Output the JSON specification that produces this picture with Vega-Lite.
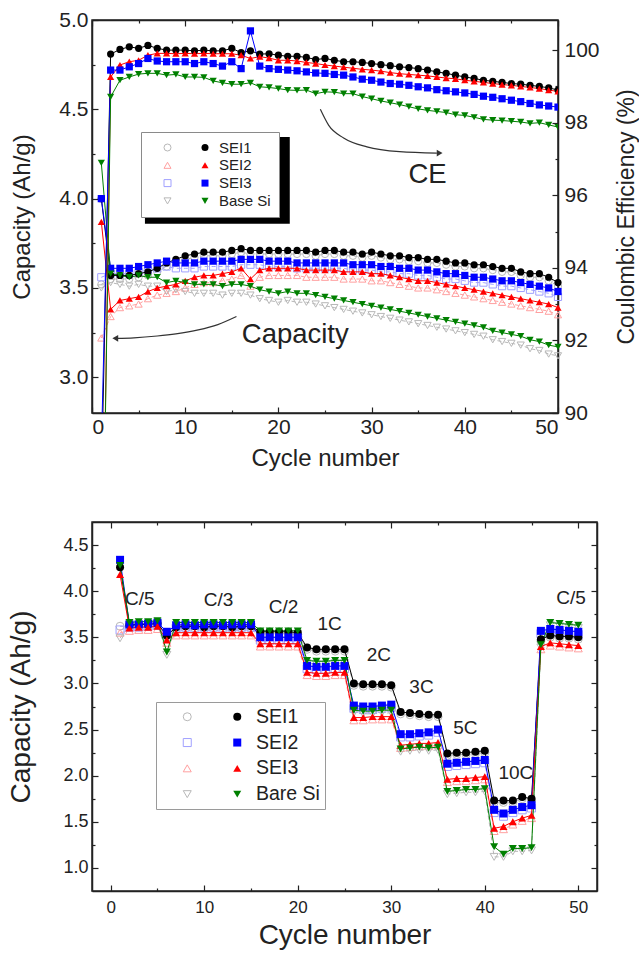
{
  "$schema": "https://vega.github.io/schema/vega-lite/v6.json",
  "background": "white",
  "padding": {"left": 6, "top": 8, "right": 0, "bottom": 0},
  "bounds": "flush",
  "spacing": 109,
  "config": {
    "font": "Liberation Sans",
    "view": {"stroke": "#222", "strokeWidth": 1.5},
    "axis": {"domainColor": "#222", "domainWidth": 1.5, "tickColor": "#222", "tickWidth": 1.2, "labelColor": "#222", "titleColor": "#222", "grid": false, "labelFont": "Liberation Sans", "titleFont": "Liberation Sans", "titleFontWeight": "normal"},
    "legend": {"labelFont": "Liberation Sans", "labelColor": "#222", "symbolStrokeWidth": 1}
  },
  "datasets": {
    "cycling": [
      {"c":1,"s":"SEI1","cap":4.00,"capo":3.52,"ce":88.0},{"c":2,"s":"SEI1","cap":3.57,"capo":3.55,"ce":99.89},{"c":3,"s":"SEI1","cap":3.57,"capo":3.55,"ce":100.02},{"c":4,"s":"SEI1","cap":3.57,"capo":3.55,"ce":100.09},{"c":5,"s":"SEI1","cap":3.58,"capo":3.56,"ce":100.05},
      {"c":6,"s":"SEI1","cap":3.59,"capo":3.57,"ce":100.13},{"c":7,"s":"SEI1","cap":3.61,"capo":3.59,"ce":100.05},{"c":8,"s":"SEI1","cap":3.64,"capo":3.62,"ce":100.0},{"c":9,"s":"SEI1","cap":3.66,"capo":3.64,"ce":100.0},{"c":10,"s":"SEI1","cap":3.68,"capo":3.66,"ce":100.0},
      {"c":11,"s":"SEI1","cap":3.69,"capo":3.67,"ce":99.98},{"c":12,"s":"SEI1","cap":3.70,"capo":3.68,"ce":100.0},{"c":13,"s":"SEI1","cap":3.70,"capo":3.68,"ce":99.98},{"c":14,"s":"SEI1","cap":3.70,"capo":3.68,"ce":99.98},{"c":15,"s":"SEI1","cap":3.71,"capo":3.69,"ce":100.05},
      {"c":16,"s":"SEI1","cap":3.72,"capo":3.70,"ce":99.93},{"c":17,"s":"SEI1","cap":3.71,"capo":3.69,"ce":99.98},{"c":18,"s":"SEI1","cap":3.71,"capo":3.69,"ce":99.89},{"c":19,"s":"SEI1","cap":3.71,"capo":3.69,"ce":99.9},{"c":20,"s":"SEI1","cap":3.71,"capo":3.69,"ce":99.86},
      {"c":21,"s":"SEI1","cap":3.71,"capo":3.69,"ce":99.83},{"c":22,"s":"SEI1","cap":3.71,"capo":3.69,"ce":99.83},{"c":23,"s":"SEI1","cap":3.71,"capo":3.69,"ce":99.8},{"c":24,"s":"SEI1","cap":3.70,"capo":3.68,"ce":99.74},{"c":25,"s":"SEI1","cap":3.71,"capo":3.69,"ce":99.77},
      {"c":26,"s":"SEI1","cap":3.71,"capo":3.69,"ce":99.72},{"c":27,"s":"SEI1","cap":3.70,"capo":3.68,"ce":99.68},{"c":28,"s":"SEI1","cap":3.70,"capo":3.68,"ce":99.68},{"c":29,"s":"SEI1","cap":3.69,"capo":3.67,"ce":99.66},{"c":30,"s":"SEI1","cap":3.70,"capo":3.68,"ce":99.63},
      {"c":31,"s":"SEI1","cap":3.69,"capo":3.67,"ce":99.6},{"c":32,"s":"SEI1","cap":3.68,"capo":3.66,"ce":99.57},{"c":33,"s":"SEI1","cap":3.68,"capo":3.66,"ce":99.54},{"c":34,"s":"SEI1","cap":3.67,"capo":3.65,"ce":99.52},{"c":35,"s":"SEI1","cap":3.67,"capo":3.65,"ce":99.49},
      {"c":36,"s":"SEI1","cap":3.66,"capo":3.64,"ce":99.45},{"c":37,"s":"SEI1","cap":3.66,"capo":3.64,"ce":99.4},{"c":38,"s":"SEI1","cap":3.65,"capo":3.63,"ce":99.36},{"c":39,"s":"SEI1","cap":3.64,"capo":3.62,"ce":99.31},{"c":40,"s":"SEI1","cap":3.64,"capo":3.62,"ce":99.26},
      {"c":41,"s":"SEI1","cap":3.63,"capo":3.61,"ce":99.22},{"c":42,"s":"SEI1","cap":3.63,"capo":3.61,"ce":99.17},{"c":43,"s":"SEI1","cap":3.62,"capo":3.60,"ce":99.14},{"c":44,"s":"SEI1","cap":3.61,"capo":3.59,"ce":99.11},{"c":45,"s":"SEI1","cap":3.61,"capo":3.59,"ce":99.08},
      {"c":46,"s":"SEI1","cap":3.59,"capo":3.57,"ce":99.06},{"c":47,"s":"SEI1","cap":3.58,"capo":3.56,"ce":99.03},{"c":48,"s":"SEI1","cap":3.58,"capo":3.56,"ce":99.0},{"c":49,"s":"SEI1","cap":3.56,"capo":3.54,"ce":98.96},{"c":50,"s":"SEI1","cap":3.53,"capo":3.51,"ce":98.9},

      {"c":1,"s":"SEI2","cap":3.87,"capo":3.22,"ce":83.0},{"c":2,"s":"SEI2","cap":3.38,"capo":3.34,"ce":99.26},{"c":3,"s":"SEI2","cap":3.43,"capo":3.39,"ce":99.59},{"c":4,"s":"SEI2","cap":3.44,"capo":3.40,"ce":99.68},{"c":5,"s":"SEI2","cap":3.45,"capo":3.41,"ce":99.72},
      {"c":6,"s":"SEI2","cap":3.48,"capo":3.44,"ce":99.86},{"c":7,"s":"SEI2","cap":3.50,"capo":3.46,"ce":99.91},{"c":8,"s":"SEI2","cap":3.51,"capo":3.47,"ce":99.91},{"c":9,"s":"SEI2","cap":3.52,"capo":3.48,"ce":99.9},{"c":10,"s":"SEI2","cap":3.54,"capo":3.50,"ce":99.91},
      {"c":11,"s":"SEI2","cap":3.56,"capo":3.52,"ce":99.9},{"c":12,"s":"SEI2","cap":3.57,"capo":3.53,"ce":99.91},{"c":13,"s":"SEI2","cap":3.57,"capo":3.53,"ce":99.9},{"c":14,"s":"SEI2","cap":3.58,"capo":3.54,"ce":99.9},{"c":15,"s":"SEI2","cap":3.59,"capo":3.55,"ce":99.9},
      {"c":16,"s":"SEI2","cap":3.61,"capo":3.57,"ce":99.86},{"c":17,"s":"SEI2","cap":3.55,"capo":3.51,"ce":99.77},{"c":18,"s":"SEI2","cap":3.60,"capo":3.56,"ce":99.82},{"c":19,"s":"SEI2","cap":3.61,"capo":3.57,"ce":99.78},{"c":20,"s":"SEI2","cap":3.61,"capo":3.57,"ce":99.72},
      {"c":21,"s":"SEI2","cap":3.61,"capo":3.57,"ce":99.72},{"c":22,"s":"SEI2","cap":3.61,"capo":3.57,"ce":99.7},{"c":23,"s":"SEI2","cap":3.60,"capo":3.56,"ce":99.66},{"c":24,"s":"SEI2","cap":3.60,"capo":3.56,"ce":99.63},{"c":25,"s":"SEI2","cap":3.60,"capo":3.56,"ce":99.59},
      {"c":26,"s":"SEI2","cap":3.60,"capo":3.56,"ce":99.56},{"c":27,"s":"SEI2","cap":3.59,"capo":3.55,"ce":99.53},{"c":28,"s":"SEI2","cap":3.59,"capo":3.55,"ce":99.5},{"c":29,"s":"SEI2","cap":3.59,"capo":3.55,"ce":99.47},{"c":30,"s":"SEI2","cap":3.58,"capo":3.54,"ce":99.45},
      {"c":31,"s":"SEI2","cap":3.58,"capo":3.54,"ce":99.42},{"c":32,"s":"SEI2","cap":3.57,"capo":3.53,"ce":99.38},{"c":33,"s":"SEI2","cap":3.56,"capo":3.52,"ce":99.35},{"c":34,"s":"SEI2","cap":3.55,"capo":3.51,"ce":99.33},{"c":35,"s":"SEI2","cap":3.54,"capo":3.50,"ce":99.31},
      {"c":36,"s":"SEI2","cap":3.54,"capo":3.50,"ce":99.29},{"c":37,"s":"SEI2","cap":3.53,"capo":3.49,"ce":99.26},{"c":38,"s":"SEI2","cap":3.52,"capo":3.48,"ce":99.23},{"c":39,"s":"SEI2","cap":3.51,"capo":3.47,"ce":99.21},{"c":40,"s":"SEI2","cap":3.50,"capo":3.46,"ce":99.17},
      {"c":41,"s":"SEI2","cap":3.49,"capo":3.45,"ce":99.14},{"c":42,"s":"SEI2","cap":3.48,"capo":3.44,"ce":99.11},{"c":43,"s":"SEI2","cap":3.47,"capo":3.43,"ce":99.08},{"c":44,"s":"SEI2","cap":3.46,"capo":3.42,"ce":99.05},{"c":45,"s":"SEI2","cap":3.45,"capo":3.41,"ce":99.03},
      {"c":46,"s":"SEI2","cap":3.44,"capo":3.40,"ce":99.0},{"c":47,"s":"SEI2","cap":3.43,"capo":3.39,"ce":98.97},{"c":48,"s":"SEI2","cap":3.42,"capo":3.38,"ce":98.94},{"c":49,"s":"SEI2","cap":3.41,"capo":3.37,"ce":98.9},{"c":50,"s":"SEI2","cap":3.39,"capo":3.35,"ce":98.86},

      {"c":1,"s":"SEI3","cap":4.00,"capo":3.56,"ce":89.0},{"c":2,"s":"SEI3","cap":3.61,"capo":3.58,"ce":99.45},{"c":3,"s":"SEI3","cap":3.61,"capo":3.58,"ce":99.45},{"c":4,"s":"SEI3","cap":3.61,"capo":3.58,"ce":99.54},{"c":5,"s":"SEI3","cap":3.62,"capo":3.59,"ce":99.63},
      {"c":6,"s":"SEI3","cap":3.63,"capo":3.60,"ce":99.77},{"c":7,"s":"SEI3","cap":3.64,"capo":3.61,"ce":99.7},{"c":8,"s":"SEI3","cap":3.65,"capo":3.62,"ce":99.68},{"c":9,"s":"SEI3","cap":3.64,"capo":3.61,"ce":99.68},{"c":10,"s":"SEI3","cap":3.64,"capo":3.61,"ce":99.68},
      {"c":11,"s":"SEI3","cap":3.64,"capo":3.61,"ce":99.63},{"c":12,"s":"SEI3","cap":3.65,"capo":3.62,"ce":99.68},{"c":13,"s":"SEI3","cap":3.65,"capo":3.62,"ce":99.63},{"c":14,"s":"SEI3","cap":3.65,"capo":3.62,"ce":99.56},{"c":15,"s":"SEI3","cap":3.65,"capo":3.62,"ce":99.68},
      {"c":16,"s":"SEI3","cap":3.66,"capo":3.63,"ce":99.49},{"c":17,"s":"SEI3","cap":3.66,"capo":3.63,"ce":100.53},{"c":18,"s":"SEI3","cap":3.66,"capo":3.63,"ce":99.56},{"c":19,"s":"SEI3","cap":3.65,"capo":3.62,"ce":99.49},{"c":20,"s":"SEI3","cap":3.65,"capo":3.62,"ce":99.47},
      {"c":21,"s":"SEI3","cap":3.65,"capo":3.62,"ce":99.45},{"c":22,"s":"SEI3","cap":3.64,"capo":3.61,"ce":99.43},{"c":23,"s":"SEI3","cap":3.64,"capo":3.61,"ce":99.4},{"c":24,"s":"SEI3","cap":3.64,"capo":3.61,"ce":99.37},{"c":25,"s":"SEI3","cap":3.64,"capo":3.61,"ce":99.36},
      {"c":26,"s":"SEI3","cap":3.64,"capo":3.61,"ce":99.33},{"c":27,"s":"SEI3","cap":3.64,"capo":3.61,"ce":99.31},{"c":28,"s":"SEI3","cap":3.63,"capo":3.60,"ce":99.26},{"c":29,"s":"SEI3","cap":3.63,"capo":3.60,"ce":99.2},{"c":30,"s":"SEI3","cap":3.63,"capo":3.60,"ce":99.17},
      {"c":31,"s":"SEI3","cap":3.62,"capo":3.59,"ce":99.12},{"c":32,"s":"SEI3","cap":3.62,"capo":3.59,"ce":99.08},{"c":33,"s":"SEI3","cap":3.61,"capo":3.58,"ce":99.06},{"c":34,"s":"SEI3","cap":3.61,"capo":3.58,"ce":99.03},{"c":35,"s":"SEI3","cap":3.60,"capo":3.57,"ce":98.99},
      {"c":36,"s":"SEI3","cap":3.60,"capo":3.57,"ce":98.96},{"c":37,"s":"SEI3","cap":3.59,"capo":3.56,"ce":98.91},{"c":38,"s":"SEI3","cap":3.58,"capo":3.55,"ce":98.88},{"c":39,"s":"SEI3","cap":3.58,"capo":3.55,"ce":98.85},{"c":40,"s":"SEI3","cap":3.57,"capo":3.54,"ce":98.82},
      {"c":41,"s":"SEI3","cap":3.56,"capo":3.53,"ce":98.78},{"c":42,"s":"SEI3","cap":3.56,"capo":3.53,"ce":98.73},{"c":43,"s":"SEI3","cap":3.55,"capo":3.52,"ce":98.7},{"c":44,"s":"SEI3","cap":3.54,"capo":3.51,"ce":98.66},{"c":45,"s":"SEI3","cap":3.54,"capo":3.51,"ce":98.62},
      {"c":46,"s":"SEI3","cap":3.53,"capo":3.50,"ce":98.58},{"c":47,"s":"SEI3","cap":3.52,"capo":3.49,"ce":98.53},{"c":48,"s":"SEI3","cap":3.51,"capo":3.48,"ce":98.49},{"c":49,"s":"SEI3","cap":3.50,"capo":3.47,"ce":98.46},{"c":50,"s":"SEI3","cap":3.48,"capo":3.45,"ce":98.43},

      {"c":1,"s":"Base Si","cap":4.20,"capo":3.50,"ce":83.0},{"c":2,"s":"Base Si","cap":3.58,"capo":3.53,"ce":98.71},{"c":3,"s":"Base Si","cap":3.57,"capo":3.52,"ce":99.17},{"c":4,"s":"Base Si","cap":3.56,"capo":3.51,"ce":99.26},{"c":5,"s":"Base Si","cap":3.57,"capo":3.52,"ce":99.34},
      {"c":6,"s":"Base Si","cap":3.56,"capo":3.51,"ce":99.36},{"c":7,"s":"Base Si","cap":3.56,"capo":3.51,"ce":99.36},{"c":8,"s":"Base Si","cap":3.53,"capo":3.48,"ce":99.31},{"c":9,"s":"Base Si","cap":3.54,"capo":3.49,"ce":99.33},{"c":10,"s":"Base Si","cap":3.53,"capo":3.48,"ce":99.26},
      {"c":11,"s":"Base Si","cap":3.52,"capo":3.47,"ce":99.26},{"c":12,"s":"Base Si","cap":3.52,"capo":3.47,"ce":99.25},{"c":13,"s":"Base Si","cap":3.52,"capo":3.47,"ce":99.15},{"c":14,"s":"Base Si","cap":3.51,"capo":3.46,"ce":99.1},{"c":15,"s":"Base Si","cap":3.52,"capo":3.47,"ce":99.06},
      {"c":16,"s":"Base Si","cap":3.52,"capo":3.47,"ce":99.06},{"c":17,"s":"Base Si","cap":3.51,"capo":3.46,"ce":99.1},{"c":18,"s":"Base Si","cap":3.49,"capo":3.44,"ce":98.99},{"c":19,"s":"Base Si","cap":3.48,"capo":3.43,"ce":98.97},{"c":20,"s":"Base Si","cap":3.47,"capo":3.42,"ce":98.94},
      {"c":21,"s":"Base Si","cap":3.48,"capo":3.43,"ce":98.9},{"c":22,"s":"Base Si","cap":3.47,"capo":3.42,"ce":98.89},{"c":23,"s":"Base Si","cap":3.47,"capo":3.42,"ce":98.9},{"c":24,"s":"Base Si","cap":3.46,"capo":3.41,"ce":98.8},{"c":25,"s":"Base Si","cap":3.45,"capo":3.40,"ce":98.85},
      {"c":26,"s":"Base Si","cap":3.44,"capo":3.39,"ce":98.84},{"c":27,"s":"Base Si","cap":3.43,"capo":3.38,"ce":98.8},{"c":28,"s":"Base Si","cap":3.42,"capo":3.37,"ce":98.8},{"c":29,"s":"Base Si","cap":3.41,"capo":3.36,"ce":98.72},{"c":30,"s":"Base Si","cap":3.40,"capo":3.35,"ce":98.66},
      {"c":31,"s":"Base Si","cap":3.39,"capo":3.34,"ce":98.6},{"c":32,"s":"Base Si","cap":3.38,"capo":3.33,"ce":98.55},{"c":33,"s":"Base Si","cap":3.37,"capo":3.32,"ce":98.5},{"c":34,"s":"Base Si","cap":3.36,"capo":3.31,"ce":98.44},{"c":35,"s":"Base Si","cap":3.35,"capo":3.30,"ce":98.38},
      {"c":36,"s":"Base Si","cap":3.34,"capo":3.29,"ce":98.34},{"c":37,"s":"Base Si","cap":3.33,"capo":3.28,"ce":98.31},{"c":38,"s":"Base Si","cap":3.32,"capo":3.27,"ce":98.28},{"c":39,"s":"Base Si","cap":3.31,"capo":3.26,"ce":98.22},{"c":40,"s":"Base Si","cap":3.30,"capo":3.25,"ce":98.2},
      {"c":41,"s":"Base Si","cap":3.29,"capo":3.24,"ce":98.15},{"c":42,"s":"Base Si","cap":3.28,"capo":3.23,"ce":98.09},{"c":43,"s":"Base Si","cap":3.26,"capo":3.21,"ce":98.07},{"c":44,"s":"Base Si","cap":3.25,"capo":3.20,"ce":98.06},{"c":45,"s":"Base Si","cap":3.24,"capo":3.19,"ce":98.04},
      {"c":46,"s":"Base Si","cap":3.23,"capo":3.18,"ce":98.02},{"c":47,"s":"Base Si","cap":3.21,"capo":3.16,"ce":97.98},{"c":48,"s":"Base Si","cap":3.20,"capo":3.15,"ce":98.0},{"c":49,"s":"Base Si","cap":3.18,"capo":3.13,"ce":97.94},{"c":50,"s":"Base Si","cap":3.17,"capo":3.12,"ce":97.88}
    ],
    "rate": [
      {"c":1,"s":"SEI1","d":4.26,"o":3.62},{"c":2,"s":"SEI1","d":3.63,"o":3.61},{"c":3,"s":"SEI1","d":3.64,"o":3.62},{"c":4,"s":"SEI1","d":3.64,"o":3.62},{"c":5,"s":"SEI1","d":3.65,"o":3.63},
      {"c":6,"s":"SEI1","d":3.52,"o":3.50},{"c":7,"s":"SEI1","d":3.61,"o":3.59},{"c":8,"s":"SEI1","d":3.62,"o":3.60},{"c":9,"s":"SEI1","d":3.62,"o":3.60},{"c":10,"s":"SEI1","d":3.61,"o":3.59},
      {"c":11,"s":"SEI1","d":3.62,"o":3.60},{"c":12,"s":"SEI1","d":3.62,"o":3.60},{"c":13,"s":"SEI1","d":3.61,"o":3.59},{"c":14,"s":"SEI1","d":3.62,"o":3.60},{"c":15,"s":"SEI1","d":3.62,"o":3.60},
      {"c":16,"s":"SEI1","d":3.56,"o":3.54},{"c":17,"s":"SEI1","d":3.56,"o":3.54},{"c":18,"s":"SEI1","d":3.56,"o":3.54},{"c":19,"s":"SEI1","d":3.56,"o":3.54},{"c":20,"s":"SEI1","d":3.55,"o":3.53},
      {"c":21,"s":"SEI1","d":3.39,"o":3.37},{"c":22,"s":"SEI1","d":3.37,"o":3.35},{"c":23,"s":"SEI1","d":3.37,"o":3.35},{"c":24,"s":"SEI1","d":3.37,"o":3.35},{"c":25,"s":"SEI1","d":3.37,"o":3.35},
      {"c":26,"s":"SEI1","d":3.00,"o":2.98},{"c":27,"s":"SEI1","d":2.99,"o":2.97},{"c":28,"s":"SEI1","d":2.99,"o":2.97},{"c":29,"s":"SEI1","d":2.99,"o":2.97},{"c":30,"s":"SEI1","d":2.98,"o":2.96},
      {"c":31,"s":"SEI1","d":2.69,"o":2.67},{"c":32,"s":"SEI1","d":2.68,"o":2.66},{"c":33,"s":"SEI1","d":2.67,"o":2.65},{"c":34,"s":"SEI1","d":2.66,"o":2.64},{"c":35,"s":"SEI1","d":2.66,"o":2.64},
      {"c":36,"s":"SEI1","d":2.24,"o":2.22},{"c":37,"s":"SEI1","d":2.25,"o":2.23},{"c":38,"s":"SEI1","d":2.25,"o":2.23},{"c":39,"s":"SEI1","d":2.26,"o":2.24},{"c":40,"s":"SEI1","d":2.27,"o":2.25},
      {"c":41,"s":"SEI1","d":1.73,"o":1.71},{"c":42,"s":"SEI1","d":1.73,"o":1.71},{"c":43,"s":"SEI1","d":1.73,"o":1.71},{"c":44,"s":"SEI1","d":1.77,"o":1.75},{"c":45,"s":"SEI1","d":1.75,"o":1.73},
      {"c":46,"s":"SEI1","d":3.48,"o":3.46},{"c":47,"s":"SEI1","d":3.52,"o":3.50},{"c":48,"s":"SEI1","d":3.51,"o":3.49},{"c":49,"s":"SEI1","d":3.51,"o":3.49},{"c":50,"s":"SEI1","d":3.50,"o":3.48},

      {"c":1,"s":"SEI2","d":4.34,"o":3.58},{"c":2,"s":"SEI2","d":3.64,"o":3.61},{"c":3,"s":"SEI2","d":3.64,"o":3.61},{"c":4,"s":"SEI2","d":3.65,"o":3.62},{"c":5,"s":"SEI2","d":3.66,"o":3.63},
      {"c":6,"s":"SEI2","d":3.56,"o":3.53},{"c":7,"s":"SEI2","d":3.63,"o":3.60},{"c":8,"s":"SEI2","d":3.64,"o":3.61},{"c":9,"s":"SEI2","d":3.63,"o":3.60},{"c":10,"s":"SEI2","d":3.64,"o":3.61},
      {"c":11,"s":"SEI2","d":3.64,"o":3.61},{"c":12,"s":"SEI2","d":3.63,"o":3.60},{"c":13,"s":"SEI2","d":3.64,"o":3.61},{"c":14,"s":"SEI2","d":3.64,"o":3.61},{"c":15,"s":"SEI2","d":3.64,"o":3.61},
      {"c":16,"s":"SEI2","d":3.50,"o":3.47},{"c":17,"s":"SEI2","d":3.50,"o":3.47},{"c":18,"s":"SEI2","d":3.50,"o":3.47},{"c":19,"s":"SEI2","d":3.50,"o":3.47},{"c":20,"s":"SEI2","d":3.50,"o":3.47},
      {"c":21,"s":"SEI2","d":3.19,"o":3.16},{"c":22,"s":"SEI2","d":3.18,"o":3.15},{"c":23,"s":"SEI2","d":3.18,"o":3.15},{"c":24,"s":"SEI2","d":3.19,"o":3.16},{"c":25,"s":"SEI2","d":3.19,"o":3.16},
      {"c":26,"s":"SEI2","d":2.76,"o":2.73},{"c":27,"s":"SEI2","d":2.75,"o":2.72},{"c":28,"s":"SEI2","d":2.75,"o":2.72},{"c":29,"s":"SEI2","d":2.76,"o":2.73},{"c":30,"s":"SEI2","d":2.77,"o":2.74},
      {"c":31,"s":"SEI2","d":2.45,"o":2.42},{"c":32,"s":"SEI2","d":2.45,"o":2.42},{"c":33,"s":"SEI2","d":2.46,"o":2.43},{"c":34,"s":"SEI2","d":2.47,"o":2.44},{"c":35,"s":"SEI2","d":2.50,"o":2.47},
      {"c":36,"s":"SEI2","d":2.13,"o":2.10},{"c":37,"s":"SEI2","d":2.14,"o":2.11},{"c":38,"s":"SEI2","d":2.15,"o":2.12},{"c":39,"s":"SEI2","d":2.16,"o":2.13},{"c":40,"s":"SEI2","d":2.17,"o":2.14},
      {"c":41,"s":"SEI2","d":1.63,"o":1.60},{"c":42,"s":"SEI2","d":1.59,"o":1.56},{"c":43,"s":"SEI2","d":1.63,"o":1.60},{"c":44,"s":"SEI2","d":1.66,"o":1.63},{"c":45,"s":"SEI2","d":1.68,"o":1.65},
      {"c":46,"s":"SEI2","d":3.57,"o":3.54},{"c":47,"s":"SEI2","d":3.59,"o":3.56},{"c":48,"s":"SEI2","d":3.58,"o":3.55},{"c":49,"s":"SEI2","d":3.57,"o":3.54},{"c":50,"s":"SEI2","d":3.56,"o":3.53},

      {"c":1,"s":"SEI3","d":4.18,"o":3.55},{"c":2,"s":"SEI3","d":3.60,"o":3.57},{"c":3,"s":"SEI3","d":3.61,"o":3.58},{"c":4,"s":"SEI3","d":3.61,"o":3.58},{"c":5,"s":"SEI3","d":3.62,"o":3.59},
      {"c":6,"s":"SEI3","d":3.47,"o":3.44},{"c":7,"s":"SEI3","d":3.55,"o":3.52},{"c":8,"s":"SEI3","d":3.55,"o":3.52},{"c":9,"s":"SEI3","d":3.55,"o":3.52},{"c":10,"s":"SEI3","d":3.55,"o":3.52},
      {"c":11,"s":"SEI3","d":3.55,"o":3.52},{"c":12,"s":"SEI3","d":3.55,"o":3.52},{"c":13,"s":"SEI3","d":3.55,"o":3.52},{"c":14,"s":"SEI3","d":3.55,"o":3.52},{"c":15,"s":"SEI3","d":3.55,"o":3.52},
      {"c":16,"s":"SEI3","d":3.43,"o":3.40},{"c":17,"s":"SEI3","d":3.43,"o":3.40},{"c":18,"s":"SEI3","d":3.43,"o":3.40},{"c":19,"s":"SEI3","d":3.43,"o":3.40},{"c":20,"s":"SEI3","d":3.43,"o":3.40},
      {"c":21,"s":"SEI3","d":3.12,"o":3.09},{"c":22,"s":"SEI3","d":3.11,"o":3.08},{"c":23,"s":"SEI3","d":3.11,"o":3.08},{"c":24,"s":"SEI3","d":3.12,"o":3.09},{"c":25,"s":"SEI3","d":3.12,"o":3.09},
      {"c":26,"s":"SEI3","d":2.63,"o":2.60},{"c":27,"s":"SEI3","d":2.63,"o":2.60},{"c":28,"s":"SEI3","d":2.64,"o":2.61},{"c":29,"s":"SEI3","d":2.64,"o":2.61},{"c":30,"s":"SEI3","d":2.64,"o":2.61},
      {"c":31,"s":"SEI3","d":2.33,"o":2.30},{"c":32,"s":"SEI3","d":2.34,"o":2.31},{"c":33,"s":"SEI3","d":2.35,"o":2.32},{"c":34,"s":"SEI3","d":2.35,"o":2.32},{"c":35,"s":"SEI3","d":2.36,"o":2.33},
      {"c":36,"s":"SEI3","d":1.96,"o":1.93},{"c":37,"s":"SEI3","d":1.97,"o":1.94},{"c":38,"s":"SEI3","d":1.97,"o":1.94},{"c":39,"s":"SEI3","d":1.98,"o":1.95},{"c":40,"s":"SEI3","d":1.99,"o":1.96},
      {"c":41,"s":"SEI3","d":1.43,"o":1.40},{"c":42,"s":"SEI3","d":1.45,"o":1.42},{"c":43,"s":"SEI3","d":1.50,"o":1.47},{"c":44,"s":"SEI3","d":1.54,"o":1.51},{"c":45,"s":"SEI3","d":1.57,"o":1.54},
      {"c":46,"s":"SEI3","d":3.40,"o":3.37},{"c":47,"s":"SEI3","d":3.44,"o":3.41},{"c":48,"s":"SEI3","d":3.43,"o":3.40},{"c":49,"s":"SEI3","d":3.42,"o":3.39},{"c":50,"s":"SEI3","d":3.41,"o":3.38},

      {"c":1,"s":"Bare Si","d":4.28,"o":3.49},{"c":2,"s":"Bare Si","d":3.66,"o":3.63},{"c":3,"s":"Bare Si","d":3.67,"o":3.64},{"c":4,"s":"Bare Si","d":3.67,"o":3.64},{"c":5,"s":"Bare Si","d":3.68,"o":3.65},
      {"c":6,"s":"Bare Si","d":3.34,"o":3.31},{"c":7,"s":"Bare Si","d":3.66,"o":3.63},{"c":8,"s":"Bare Si","d":3.66,"o":3.63},{"c":9,"s":"Bare Si","d":3.66,"o":3.63},{"c":10,"s":"Bare Si","d":3.66,"o":3.63},
      {"c":11,"s":"Bare Si","d":3.66,"o":3.63},{"c":12,"s":"Bare Si","d":3.66,"o":3.63},{"c":13,"s":"Bare Si","d":3.66,"o":3.63},{"c":14,"s":"Bare Si","d":3.66,"o":3.63},{"c":15,"s":"Bare Si","d":3.66,"o":3.63},
      {"c":16,"s":"Bare Si","d":3.57,"o":3.54},{"c":17,"s":"Bare Si","d":3.57,"o":3.54},{"c":18,"s":"Bare Si","d":3.57,"o":3.54},{"c":19,"s":"Bare Si","d":3.57,"o":3.54},{"c":20,"s":"Bare Si","d":3.57,"o":3.54},
      {"c":21,"s":"Bare Si","d":3.25,"o":3.22},{"c":22,"s":"Bare Si","d":3.24,"o":3.21},{"c":23,"s":"Bare Si","d":3.24,"o":3.21},{"c":24,"s":"Bare Si","d":3.25,"o":3.22},{"c":25,"s":"Bare Si","d":3.25,"o":3.22},
      {"c":26,"s":"Bare Si","d":2.71,"o":2.68},{"c":27,"s":"Bare Si","d":2.70,"o":2.67},{"c":28,"s":"Bare Si","d":2.70,"o":2.67},{"c":29,"s":"Bare Si","d":2.71,"o":2.68},{"c":30,"s":"Bare Si","d":2.71,"o":2.68},
      {"c":31,"s":"Bare Si","d":2.29,"o":2.26},{"c":32,"s":"Bare Si","d":2.30,"o":2.27},{"c":33,"s":"Bare Si","d":2.31,"o":2.28},{"c":34,"s":"Bare Si","d":2.30,"o":2.27},{"c":35,"s":"Bare Si","d":2.31,"o":2.28},
      {"c":36,"s":"Bare Si","d":1.83,"o":1.80},{"c":37,"s":"Bare Si","d":1.84,"o":1.81},{"c":38,"s":"Bare Si","d":1.85,"o":1.82},{"c":39,"s":"Bare Si","d":1.85,"o":1.82},{"c":40,"s":"Bare Si","d":1.86,"o":1.83},
      {"c":41,"s":"Bare Si","d":1.23,"o":1.12},{"c":42,"s":"Bare Si","d":1.15,"o":1.12},{"c":43,"s":"Bare Si","d":1.21,"o":1.18},{"c":44,"s":"Bare Si","d":1.21,"o":1.18},{"c":45,"s":"Bare Si","d":1.22,"o":1.19},
      {"c":46,"s":"Bare Si","d":3.42,"o":3.39},{"c":47,"s":"Bare Si","d":3.66,"o":3.63},{"c":48,"s":"Bare Si","d":3.65,"o":3.62},{"c":49,"s":"Bare Si","d":3.64,"o":3.61},{"c":50,"s":"Bare Si","d":3.63,"o":3.60}
    ],
    "arrows": [
      {"a":"ce","c":24.5,"v":4.50},{"a":"ce","c":25.4,"v":4.41},{"a":"ce","c":27.0,"v":4.34},{"a":"ce","c":29.5,"v":4.29},{"a":"ce","c":33.0,"v":4.263},{"a":"ce","c":37.0,"v":4.255},
      {"a":"cap","c":15.5,"v":3.34},{"a":"cap","c":13.5,"v":3.295},{"a":"cap","c":11.4,"v":3.265},{"a":"cap","c":9.0,"v":3.243},{"a":"cap","c":7.0,"v":3.231},{"a":"cap","c":4.5,"v":3.221},{"a":"cap","c":2.6,"v":3.218}
    ],
    "heads": [
      {"a":"ce","c":37.3,"v":4.255},{"a":"cap","c":2.5,"v":3.218}
    ],
    "notes": [
      {"t":"CE","c":36.0,"v":4.086},{"t":"Capacity","c":21.81,"v":3.191}
    ],
    "shadow": [
      {"c":5.68,"c2":21.22,"v":4.345,"v2":3.86}
    ],
    "rates": [
      {"label":"C/5","c":3.1,"v":3.85},{"label":"C/3","c":11.54,"v":3.839},{"label":"C/2","c":18.48,"v":3.76},
      {"label":"1C","c":23.4,"v":3.576},{"label":"2C","c":28.67,"v":3.243},{"label":"3C","c":33.23,"v":2.893},
      {"label":"5C","c":37.93,"v":2.455},{"label":"10C","c":43.32,"v":1.961},{"label":"C/5","c":49.23,"v":3.861}
    ]
  },
  "vconcat": [
    {
      "width": 466,
      "height": 393,
      "layer": [
        {
          "data": {"name": "cycling"},
          "encoding": {
            "x": {"field": "c", "type": "quantitative", "scale": {"domain": [0, 50], "nice": false, "zero": false},
              "axis": {"orient": "bottom", "values": [0,5,10,15,20,25,30,35,40,45,50], "format": "d",
                "labelExpr": "datum.value % 10 === 0 ? datum.label : ''",
                "tickSize": {"condition": {"test": "datum.value % 10 !== 0", "value": -3}, "value": -6},
                "labelFontSize": 21, "labelPadding": 9, "title": "Cycle number", "titleFontSize": 24, "titlePadding": 9}}
          },
          "layer": [
            {
              "mark": {"type": "line", "strokeWidth": 1, "strokeDash": [4, 3]},
              "encoding": {
                "y": {"field": "capo", "type": "quantitative", "scale": {"domain": [2.8, 5.0], "nice": false, "zero": false},
                  "axis": {"orient": "left", "values": [3.0,3.25,3.5,3.75,4.0,4.25,4.5,4.75,5.0], "format": ".1f",
                    "labelExpr": "datum.value % 0.5 === 0 ? datum.label : ''",
                    "tickSize": {"condition": {"test": "datum.value % 0.5 !== 0", "value": -3}, "value": -6},
                    "labelFontSize": 21, "labelPadding": 10, "title": "Capacity (Ah/g)", "titleFontSize": 24,
                    "titleX": -69.5, "titleY": 196.5, "titleAngle": 270, "titleAlign": "center", "titleBaseline": "middle"}},
                "color": {"field": "s", "type": "nominal", "legend": null, "scale": {"domain": ["SEI1","SEI2","SEI3","Base Si"], "range": ["#b8b8b8","#ffa0a0","#a0a0ff","#b8b8b8"]}}
              }
            },
            {
              "mark": {"type": "point", "filled": false, "size": 52, "strokeWidth": 1, "opacity": 1},
              "encoding": {
                "y": {"field": "capo", "type": "quantitative"},
                "shape": {"field": "s", "type": "nominal", "legend": null, "scale": {"domain": ["SEI1","SEI2","SEI3","Base Si"], "range": ["circle","triangle-up","square","triangle-down"]}},
                "color": {"field": "s", "type": "nominal", "scale": {"domain": ["SEI1","SEI2","SEI3","Base Si"], "range": ["#b8b8b8","#ffa0a0","#a0a0ff","#b8b8b8"]},
                  "legend": {"orient": "none", "legendX": 49, "legendY": 112, "title": null, "padding": 8, "zindex": 2,
                    "symbolSize": 49, "symbolOffset": 11, "labelFontSize": 15, "labelOpacity": 0, "rowPadding": 1.8}}
              }
            },
            {
              "mark": {"type": "line", "strokeWidth": 1},
              "encoding": {
                "y": {"field": "cap", "type": "quantitative"},
                "color": {"field": "s", "type": "nominal", "legend": null, "scale": {"domain": ["SEI1","SEI2","SEI3","Base Si"], "range": ["#000000","#ff0000","#0000ff","#008000"]}}
              }
            },
            {
              "mark": {"type": "point", "filled": true, "size": 52, "opacity": 1},
              "encoding": {
                "y": {"field": "cap", "type": "quantitative"},
                "shape": {"field": "s", "type": "nominal", "legend": null, "scale": {"domain": ["SEI1","SEI2","SEI3","Base Si"], "range": ["circle","triangle-up","square","triangle-down"]}},
                "color": {"field": "s", "type": "nominal", "scale": {"domain": ["SEI1","SEI2","SEI3","Base Si"], "range": ["#000000","#ff0000","#0000ff","#008000"]},
                  "legend": {"orient": "none", "legendX": 49, "legendY": 112, "title": null, "padding": 8, "zindex": 1,
                    "symbolSize": 49, "symbolOffset": 48.5, "labelOffset": 6.5, "labelFontSize": 15, "rowPadding": 1.8,
                    "labelExpr": "datum.label + '  '",
                    "fillColor": "white", "strokeColor": "#8a8a8a"}}
              }
            },
            {
              "data": {"name": "shadow"},
              "mark": {"type": "rect", "color": "#000000"},
              "encoding": {
                "x2": {"field": "c2"},
                "y": {"field": "v", "type": "quantitative"},
                "y2": {"field": "v2"}
              }
            },
            {
              "data": {"name": "arrows"},
              "mark": {"type": "line", "color": "#333333", "strokeWidth": 1.2, "interpolate": "monotone"},
              "encoding": {
                "y": {"field": "v", "type": "quantitative"},
                "detail": {"field": "a", "type": "nominal"}
              }
            },
            {
              "data": {"name": "heads"},
              "mark": {"type": "point", "filled": true, "size": 45, "color": "#333333", "opacity": 1},
              "encoding": {
                "y": {"field": "v", "type": "quantitative"},
                "shape": {"field": "a", "type": "nominal", "legend": null, "scale": {"domain": ["ce", "cap"], "range": ["triangle-right", "triangle-left"]}}
              }
            },
            {
              "data": {"name": "notes"},
              "mark": {"type": "text", "fontSize": 27.5, "align": "center", "baseline": "alphabetic", "color": "#222222"},
              "encoding": {
                "y": {"field": "v", "type": "quantitative"},
                "text": {"field": "t", "type": "nominal"}
              }
            }
          ],
          "resolve": {"scale": {"color": "independent", "shape": "independent"}}
        },
        {
          "data": {"name": "cycling"},
          "encoding": {
            "x": {"field": "c", "type": "quantitative", "scale": {"domain": [0, 50], "nice": false, "zero": false},
              "axis": {"orient": "top", "values": [0,5,10,15,20,25,30,35,40,45,50], "labels": false, "title": null,
                "tickSize": {"condition": {"test": "datum.value % 10 !== 0", "value": -3}, "value": -6}}},
            "y": {"field": "ce", "type": "quantitative", "scale": {"domain": [90, 100.83], "nice": false, "zero": false},
              "axis": {"orient": "right", "values": [90,91,92,93,94,95,96,97,98,99,100], "format": "d",
                "labelExpr": "datum.value % 2 === 0 ? datum.label : ''",
                "tickSize": {"condition": {"test": "datum.value % 2 !== 0", "value": -3}, "value": -6},
                "labelFontSize": 21, "labelPadding": 12, "title": "Coulombic Efficiency (%)", "titleFontSize": 23,
                "titleX": 68, "titleY": 196.5, "titleAngle": 270, "titleAlign": "center", "titleBaseline": "middle"}}
          },
          "layer": [
            {
              "mark": {"type": "line", "strokeWidth": 1, "clip": true},
              "encoding": {
                "color": {"field": "s", "type": "nominal", "legend": null, "scale": {"domain": ["SEI1","SEI2","SEI3","Base Si"], "range": ["#000000","#ff0000","#0000ff","#008000"]}}
              }
            },
            {
              "mark": {"type": "point", "filled": true, "size": 52, "opacity": 1, "clip": true},
              "encoding": {
                "shape": {"field": "s", "type": "nominal", "legend": null, "scale": {"domain": ["SEI1","SEI2","SEI3","Base Si"], "range": ["circle","triangle-up","square","triangle-down"]}},
                "color": {"field": "s", "type": "nominal", "legend": null, "scale": {"domain": ["SEI1","SEI2","SEI3","Base Si"], "range": ["#000000","#ff0000","#0000ff","#008000"]}}
              }
            }
          ],
          "resolve": {"scale": {"color": "independent", "shape": "independent"}}
        }
      ],
      "resolve": {"scale": {"y": "independent", "color": "independent", "shape": "independent"}, "axis": {"x": "independent", "y": "independent"}}
    },
    {
      "width": 505,
      "height": 369,
      "layer": [
        {
          "data": {"name": "rate"},
          "encoding": {
            "x": {"field": "c", "type": "quantitative", "scale": {"domain": [-2, 52], "nice": false, "zero": false},
              "axis": {"orient": "bottom", "values": [0,5,10,15,20,25,30,35,40,45,50], "format": "d",
                "labelExpr": "datum.value % 10 === 0 ? datum.label : ''",
                "tickSize": {"condition": {"test": "datum.value % 10 !== 0", "value": -3}, "value": -6},
                "labelFontSize": 17, "labelPadding": 14, "title": "Cycle number", "titleFontSize": 28, "titlePadding": 6}},
            "y": {"field": "d", "type": "quantitative", "scale": {"domain": [0.75, 4.75], "nice": false, "zero": false},
              "axis": {"orient": "left", "values": [1.0,1.25,1.5,1.75,2.0,2.25,2.5,2.75,3.0,3.25,3.5,3.75,4.0,4.25,4.5], "format": ".1f",
                "labelExpr": "datum.value % 0.5 === 0 ? datum.label : ''",
                "tickSize": {"condition": {"test": "datum.value % 0.5 !== 0", "value": -3}, "value": -6},
                "labelFontSize": 18, "labelPadding": 10, "title": "Capacity (Ah/g)", "titleFontSize": 28,
                "titleX": -71, "titleY": 184.5, "titleAngle": 270, "titleAlign": "center", "titleBaseline": "middle"}}
          },
          "layer": [
            {
              "mark": {"type": "line", "strokeWidth": 1, "strokeDash": [4, 3]},
              "encoding": {
                "y": {"field": "o", "type": "quantitative"},
                "color": {"field": "s", "type": "nominal", "legend": null, "scale": {"domain": ["SEI1","SEI2","SEI3","Bare Si"], "range": ["#b8b8b8","#a0a0ff","#ffa0a0","#b8b8b8"]}}
              }
            },
            {
              "mark": {"type": "point", "filled": false, "size": 64, "strokeWidth": 1, "opacity": 1},
              "encoding": {
                "y": {"field": "o", "type": "quantitative"},
                "shape": {"field": "s", "type": "nominal", "legend": null, "scale": {"domain": ["SEI1","SEI2","SEI3","Bare Si"], "range": ["circle","square","triangle-up","triangle-down"]}},
                "color": {"field": "s", "type": "nominal", "scale": {"domain": ["SEI1","SEI2","SEI3","Bare Si"], "range": ["#b8b8b8","#a0a0ff","#ffa0a0","#b8b8b8"]},
                  "legend": {"orient": "none", "legendX": 64, "legendY": 180, "title": null, "padding": 5, "zindex": 2,
                    "symbolSize": 64, "symbolOffset": 16.5, "labelFontSize": 19.5, "labelOpacity": 0, "rowPadding": 4.8}}
              }
            },
            {
              "mark": {"type": "line", "strokeWidth": 1},
              "encoding": {
                "color": {"field": "s", "type": "nominal", "legend": null, "scale": {"domain": ["SEI1","SEI2","SEI3","Bare Si"], "range": ["#000000","#0000ff","#ff0000","#008000"]}}
              }
            },
            {
              "mark": {"type": "point", "filled": true, "size": 64, "opacity": 1},
              "encoding": {
                "shape": {"field": "s", "type": "nominal", "legend": null, "scale": {"domain": ["SEI1","SEI2","SEI3","Bare Si"], "range": ["circle","square","triangle-up","triangle-down"]}},
                "color": {"field": "s", "type": "nominal", "scale": {"domain": ["SEI1","SEI2","SEI3","Bare Si"], "range": ["#000000","#0000ff","#ff0000","#008000"]},
                  "legend": {"orient": "none", "legendX": 64, "legendY": 180, "title": null, "padding": 5, "zindex": 1,
                    "symbolSize": 64, "symbolOffset": 66.5, "labelOffset": 9, "labelFontSize": 19.5, "rowPadding": 4.8,
                    "fillColor": "white", "strokeColor": "#9a9a9a"}}
              }
            },
            {
              "data": {"name": "rates"},
              "mark": {"type": "text", "fontSize": 19, "align": "center", "baseline": "alphabetic", "color": "#222222"},
              "encoding": {
                "y": {"field": "v", "type": "quantitative"},
                "text": {"field": "label", "type": "nominal"}
              }
            }
          ],
          "resolve": {"scale": {"color": "independent", "shape": "independent"}}
        },
        {
          "data": {"name": "rate"},
          "mark": {"type": "point", "opacity": 0},
          "encoding": {
            "x": {"field": "c", "type": "quantitative", "scale": {"domain": [-2, 52], "nice": false, "zero": false},
              "axis": {"orient": "top", "values": [0,5,10,15,20,25,30,35,40,45,50], "labels": false, "title": null,
                "tickSize": {"condition": {"test": "datum.value % 10 !== 0", "value": -3}, "value": -6}}},
            "y": {"field": "d", "type": "quantitative", "scale": {"domain": [0.75, 4.75], "nice": false, "zero": false},
              "axis": {"orient": "right", "values": [1.0,1.25,1.5,1.75,2.0,2.25,2.5,2.75,3.0,3.25,3.5,3.75,4.0,4.25,4.5], "labels": false, "title": null,
                "tickSize": {"condition": {"test": "datum.value % 0.5 !== 0", "value": -3}, "value": -6}}}
          }
        }
      ],
      "resolve": {"axis": {"x": "independent", "y": "independent"}}
    }
  ]
}
